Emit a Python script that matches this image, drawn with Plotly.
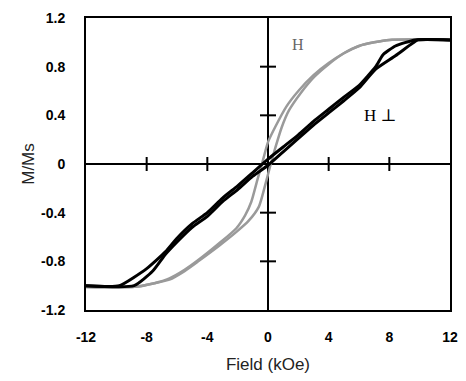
import plotly.graph_objects as go

# Parallel field (gray) hysteresis loop: descending and ascending branches
par_down_h = [12, 8, 7, 6, 5, 4, 3, 2, 1.2, 0.5, 0, -0.4, -0.7, -1.1, -1.5, -2.1, -3.2, -4.6, -5.5, -6.5, -7.5, -8.8, -12]
par_down_m = [1.02, 1.02, 1.0, 0.97, 0.91, 0.83, 0.73, 0.60, 0.47, 0.31, 0.18, 0.0, -0.13, -0.31, -0.42, -0.53, -0.65, -0.79, -0.87, -0.94, -0.98, -1.01, -1.01]
par_up_h = [-12, -8.8, -7.5, -6.5, -5.5, -4.6, -3.2, -2.1, -1.3, -0.6, -0.2, 0.18, 0.5, 0.9, 1.38, 2.2, 3, 4, 5, 6, 7, 8, 12]
par_up_m = [-1.01, -1.01, -0.98, -0.95, -0.88, -0.80, -0.67, -0.56, -0.47, -0.35, -0.18, 0.0, 0.14, 0.30, 0.44, 0.59, 0.71, 0.82, 0.91, 0.97, 1.0, 1.02, 1.02]

# Perpendicular field (black) loop
perp_down_h = [12, 9.7, 8.4, 7.6, 7.1, 6, 5, 4, 3, 2, 1, 0, -1, -2, -3, -4, -5, -6, -6.75, -8, -9.8, -12]
perp_down_m = [1.02, 1.02, 0.97, 0.90, 0.80, 0.645, 0.55, 0.45, 0.35, 0.24, 0.14, 0.04, -0.07, -0.18, -0.28, -0.40, -0.49, -0.61, -0.72, -0.86, -1.0, -1.0]
perp_up_h = [-12, -8.83, -7.6, -6.75, -6, -5, -4, -3, -2, -1, 0, 1, 2, 3, 4, 5, 6, 7.1, 8.4, 9.5, 9.9, 12]
perp_up_m = [-1.0, -1.0, -0.88, -0.74, -0.64, -0.52, -0.43, -0.31, -0.21, -0.10, -0.01, 0.10, 0.21, 0.32, 0.42, 0.52, 0.625, 0.78, 0.89, 0.99, 1.02, 1.02]

x_ticks = [-12, -8, -4, 0, 4, 8, 12]
x_labels = ["-12", "-8", "-4", "0", "4", "8", "12"]
y_ticks = [-1.2, -0.8, -0.4, 0, 0.4, 0.8, 1.2]
y_labels = ["-1.2", "-0.8", "-0.4", "0", "0.4", "0.8", "1.2"]
x_cross = [-8, -4, 4, 8]
y_cross = [-0.8, -0.4, 0.4, 0.8]

fig = go.Figure()
gray = "#9a9a9a"
fig.add_trace(go.Scatter(x=par_down_h, y=par_down_m, mode="lines",
                         line=dict(color=gray, width=2.5, shape="spline", smoothing=0.6)))
fig.add_trace(go.Scatter(x=par_up_h, y=par_up_m, mode="lines",
                         line=dict(color=gray, width=2.5, shape="spline", smoothing=0.6)))
fig.add_trace(go.Scatter(x=perp_down_h, y=perp_down_m, mode="lines",
                         line=dict(color="black", width=3, shape="spline", smoothing=0.5)))
fig.add_trace(go.Scatter(x=perp_up_h, y=perp_up_m, mode="lines",
                         line=dict(color="black", width=3, shape="spline", smoothing=0.5)))

shapes = []
for xv in x_cross:
    shapes.append(dict(type="line", xref="x", yref="y", ysizemode="pixel", yanchor=0,
                       x0=xv, x1=xv, y0=-7, y1=7, line=dict(color="black", width=2)))
for yv in y_cross:
    shapes.append(dict(type="line", xref="x", yref="y", xsizemode="pixel", xanchor=0,
                       x0=-8, x1=8, y0=yv, y1=yv, line=dict(color="black", width=2)))

# page body adds an 8px offset, so the figure is sized to fit inside the window
fig.update_layout(
    width=458, height=373,
    margin=dict(l=78, r=16, t=10, b=71),
    paper_bgcolor="white", plot_bgcolor="white",
    showlegend=False,
    shapes=shapes,
    font=dict(family="Liberation Sans, Arial, sans-serif", color="black"),
    annotations=[
        dict(x=2.0, y=0.98, xref="x", yref="y", text="H", showarrow=False,
             font=dict(family="Liberation Serif, DejaVu Serif, serif", size=16, color="#666666")),
        dict(x=7.4, y=0.40, xref="x", yref="y", text="H \u22a5", showarrow=False,
             font=dict(family="Liberation Serif, DejaVu Serif, serif", size=17, color="black")),
    ],
)
fig.update_xaxes(
    range=[-12, 12], tickvals=x_ticks, ticktext=x_labels, automargin=False,
    showline=True, mirror=True, linecolor="black", linewidth=2,
    showgrid=False, zeroline=True, zerolinecolor="black", zerolinewidth=2,
    ticks="", ticklabelstandoff=13, ticklabeloverflow="allow",
    tickfont=dict(family="Liberation Sans, Arial, sans-serif", size=14, weight="bold"),
    title=dict(text="Field (kOe)", standoff=14,
               font=dict(family="Liberation Sans, Arial, sans-serif", size=17, color="#222222")),
)
fig.update_yaxes(
    range=[-1.2, 1.2], tickvals=y_ticks, ticktext=y_labels, automargin=False,
    showline=True, mirror=True, linecolor="black", linewidth=2,
    showgrid=False, zeroline=True, zerolinecolor="black", zerolinewidth=2,
    ticks="", ticklabelstandoff=16, ticklabeloverflow="allow",
    tickfont=dict(family="Liberation Sans, Arial, sans-serif", size=14, weight="bold"),
    title=dict(text="M/Ms", standoff=2,
               font=dict(family="Liberation Sans, Arial, sans-serif", size=17, color="#222222")),
)

fig.write_html("out.html")
